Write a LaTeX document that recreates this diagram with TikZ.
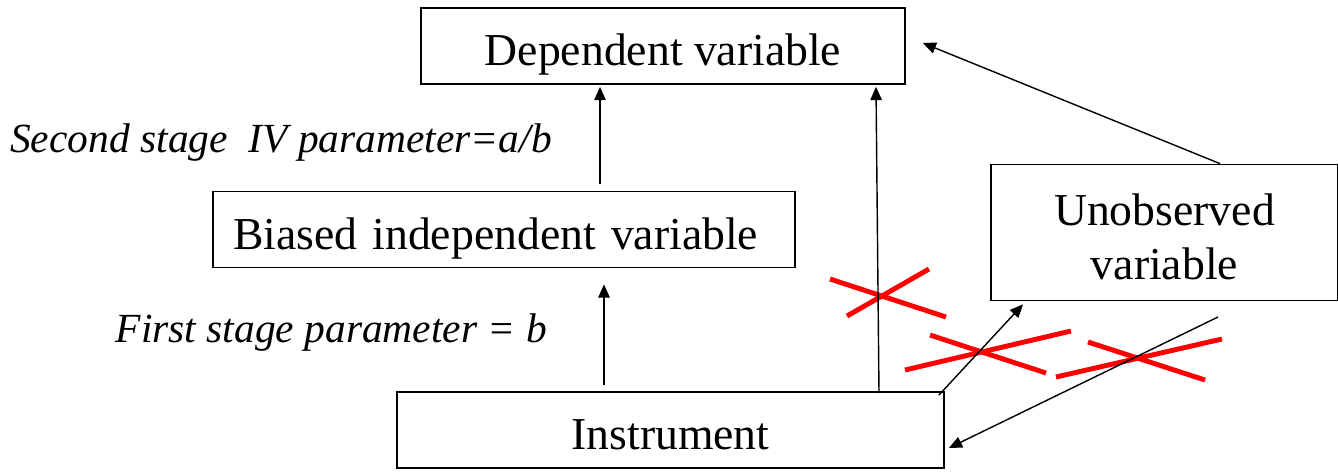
\documentclass[tikz,border=0pt]{standalone}
\usepackage{fontspec}
\setmainfont{Liberation Serif}
\usetikzlibrary{arrows.meta,calc}

\begin{document}
\begin{tikzpicture}[x=0.02cm,y=-0.02cm,
  box/.style={draw,line width=1pt,inner sep=0pt,font=\fontsize{26}{31}\selectfont,align=center,text height=22.6pt,text depth=0pt},
  lbl/.style={font=\fontsize{23.6}{28}\selectfont\itshape,anchor=east},
  arr/.style={-{Triangle[length=7.5pt,width=6.5pt]},line width=0.8pt},
  cross/.style={red,line width=2.8pt}]
  \useasboundingbox (0,0) rectangle (1338,471);
  % Boxes
  \node[box,minimum width=9.68cm,minimum height=1.52cm] (dep) at (663,46) {Dependent variable};
  \node[box,minimum width=11.64cm,minimum height=1.52cm,text width=10.84cm,align=left] (bia) at (504,229.5) {Biased independent variable};
  \node[box,minimum width=6.94cm,minimum height=2.72cm,text height=53.8pt] (unob) at (1164.5,232.5) {Unobserved\\variable};
  \node[box,minimum width=10.94cm,minimum height=1.52cm] (ins) at (670.5,430) {Instrument};
  % Stage labels
  \node[lbl] (second) at (558,143) {Second stage~ IV parameter=a/b};
  \node[lbl] (first) at (553,333) {First stage parameter = b};
  % Crossed-out paths
  \draw[cross] (830,279) -- (946,317); \draw[cross] (847,316) -- (929,269);
  \draw[cross] (930,335) -- (1046,373); \draw[cross] (905,370) -- (1071,331);
  \draw[cross] (1088,342) -- (1205,380); \draw[cross] (1056,377) -- (1222,339);
  % Arrows
  \draw[arr] ($(ins.north -| 604,0)+(0,-6)$) -- ($(bia.south -| 604,0)+(0,16)$);
  \draw[arr] ($(bia.north -| 600,0)+(0,-7)$) -- ($(dep.south -| 600,0)+(0,2)$);
  \draw[arr] ($(ins.north -| 879,0)+(0,2)$) -- ($(dep.south -| 876,0)+(0,2)$);
  \draw[arr] (unob.north -| 1220,0) -- ($(dep.east)+(17,-3)$);
  \draw[arr] ($(ins.north east)+(-6,4)$) -- ($(unob.south -| 1023,0)+(0,3)$);
  \coordinate (tail) at (1218,317);
  \draw[arr] (tail) -- ($(ins.east)+(4,18)$);
\end{tikzpicture}
\end{document}
